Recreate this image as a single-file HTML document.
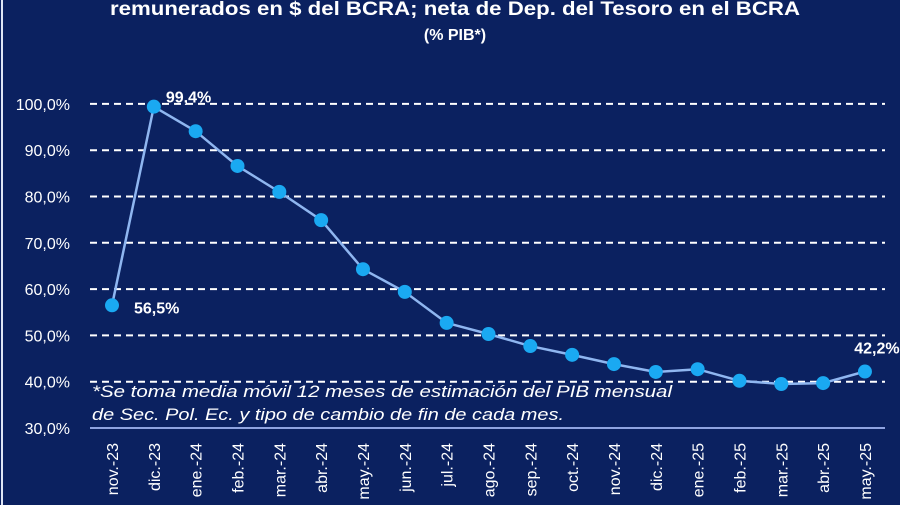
<!DOCTYPE html>
<html><head><meta charset="utf-8"><style>
body{margin:0;background:#0b2160;}
svg{display:block;font-family:"Liberation Sans",sans-serif;}
</style></head><body>
<svg id="c" width="900" height="505">
<rect width="900" height="505" fill="#0b2160"/>
<line x1="2" y1="0" x2="2" y2="505" stroke="#dfe6f5" stroke-width="2"/>
<text x="455" y="15" text-anchor="middle" fill="#fff" font-size="19" font-weight="bold" textLength="690" lengthAdjust="spacingAndGlyphs">remunerados en $ del BCRA; neta de Dep. del Tesoro en el BCRA</text>
<text x="455" y="40" text-anchor="middle" fill="#fff" font-size="16" font-weight="bold">(% PIB*)</text>
<g id="grid"></g><g id="series"></g><g id="xl"></g>
<text x="92" y="397" fill="#fff" font-size="17" font-style="italic" textLength="580" lengthAdjust="spacingAndGlyphs">*Se toma media móvil 12 meses de estimación del PIB mensual</text>
<text x="92" y="420" fill="#fff" font-size="17" font-style="italic" textLength="472" lengthAdjust="spacingAndGlyphs">de Sec. Pol. Ec. y tipo de cambio de fin de cada mes.</text>
</svg>
<script>
const categories=["nov.-23","dic.-23","ene.-24","feb.-24","mar.-24","abr.-24","may.-24","jun.-24","jul.-24","ago.-24","sep.-24","oct.-24","nov.-24","dic.-24","ene.-25","feb.-25","mar.-25","abr.-25","may.-25"];
const values=[56.5,99.4,94.1,86.6,81,74.9,64.3,59.4,52.7,50.3,47.7,45.8,43.8,42.1,42.7,40.2,39.5,39.7,42.2];
const yTicks=[30,40,50,60,70,80,90,100];
const yTickLabels=["30,0%","40,0%","50,0%","60,0%","70,0%","80,0%","90,0%","100,0%"];
const labeled={0:"56,5%",1:"99,4%",18:"42,2%"};
const NS="http://www.w3.org/2000/svg";
const y=v=>428-(v-30)*4.63;
const x=i=>112+i*41.83;
function mk(t,a,p){const e=document.createElementNS(NS,t);for(const k in a)e.setAttribute(k,a[k]);p.appendChild(e);return e;}
const g=document.getElementById('grid');
yTicks.forEach((v,i)=>{
 const l=mk('line',{x1:90,x2:885,y1:y(v),y2:y(v),stroke:v===30?'#8fa3e0':'#fff','stroke-width':2,'stroke-dasharray':v===30?'':'7,5'},g);
 
 
 const t=mk('text',{x:70,y:y(v)+6,'text-anchor':'end',fill:'#fff','font-size':16},g);
 t.textContent=yTickLabels[i];
 
 
});
const s=document.getElementById('series');
const pl=mk('polyline',{points:values.map((v,i)=>x(i)+','+y(v)).join(' '),fill:'none',stroke:'#8fb6f0','stroke-width':2.5},s);


values.forEach((v,i)=>{
 const c=mk('circle',{cx:x(i),cy:y(v),r:7,fill:'#1aa9f2'},s);
 
 
 if(labeled[i]){
  const pos=i===0?[x(i)+22,y(v)+8,'start']:i===1?[x(i)+12,y(v)-4,'start']:[x(i)+12,y(v)-18,'middle'];
  const t=mk('text',{x:pos[0],y:pos[1],'text-anchor':pos[2],fill:'#fff','font-size':16,'font-weight':'bold'},s);
  t.textContent=labeled[i];
  
  
 }
});
const xl=document.getElementById('xl');
categories.forEach((c,i)=>{
 const t=mk('text',{x:0,y:0,transform:`translate(${x(i)+6},443) rotate(-90)`,'text-anchor':'end',fill:'#fff','font-size':16},xl);
 t.textContent=c;
 
 
});
</script>
</body></html>
